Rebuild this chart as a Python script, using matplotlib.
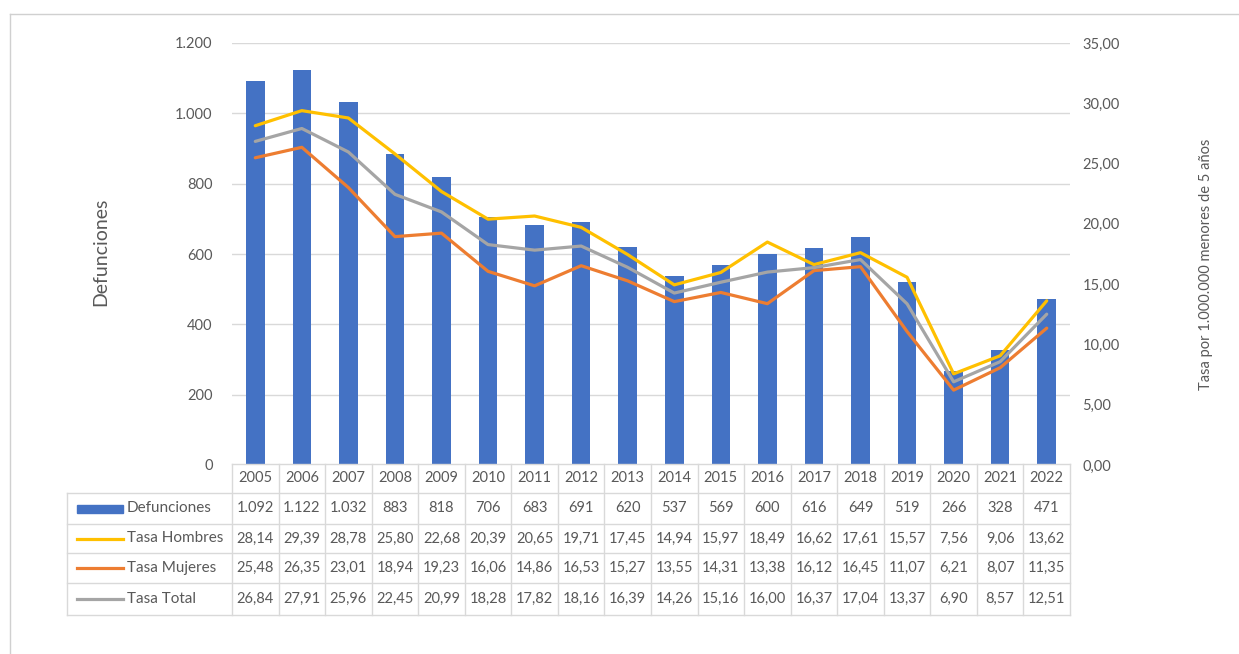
import matplotlib
matplotlib.use("Agg")
import matplotlib.pyplot as plt
import matplotlib.transforms as mtransforms
from matplotlib.lines import Line2D
from matplotlib.patches import Rectangle

plt.rcParams['font.family'] = ['Lato', 'DejaVu Sans']

YEARS = ["2005", "2006", "2007", "2008", "2009", "2010", "2011", "2012", "2013",
         "2014", "2015", "2016", "2017", "2018", "2019", "2020", "2021", "2022"]
DEFUNCIONES = [1092, 1122, 1032, 883, 818, 706, 683, 691, 620, 537, 569, 600, 616, 649, 519, 266, 328, 471]
TASA_HOMBRES = [28.14, 29.39, 28.78, 25.80, 22.68, 20.39, 20.65, 19.71, 17.45, 14.94, 15.97, 18.49,
                16.62, 17.61, 15.57, 7.56, 9.06, 13.62]
TASA_MUJERES = [25.48, 26.35, 23.01, 18.94, 19.23, 16.06, 14.86, 16.53, 15.27, 13.55, 14.31, 13.38,
                16.12, 16.45, 11.07, 6.21, 8.07, 11.35]
TASA_TOTAL = [26.84, 27.91, 25.96, 22.45, 20.99, 18.28, 17.82, 18.16, 16.39, 14.26, 15.16, 16.00,
              16.37, 17.04, 13.37, 6.90, 8.57, 12.51]
LEFT_TICKS = [0, 200, 400, 600, 800, 1000, 1200]
RIGHT_TICKS = [0, 5, 10, 15, 20, 25, 30, 35]

BLUE = '#4472C4'
YELLOW = '#FFC000'
ORANGE = '#ED7D31'
GREY = '#A5A5A5'
TXT = '#595959'
GRID = '#D9D9D9'

W, H = 1239, 654


def fx(px):
    return px / W


def fy(py):
    return 1 - py / H


def fmt_int(v):
    return "{:,}".format(v).replace(",", ".")


def fmt_rate(v):
    return "{:.2f}".format(v).replace(".", ",")


def main():
    fig = plt.figure(figsize=(W / 100, H / 100), dpi=100)
    ax = fig.add_axes([fx(232), fy(465), fx(1070) - fx(232), fy(43) - fy(465)])
    ax2 = ax.twinx()

    xs = list(range(len(YEARS)))
    ax.bar(xs, DEFUNCIONES, width=0.4, color=BLUE, zorder=2)
    ax.set_xlim(-0.5, len(YEARS) - 0.5)
    ax.set_ylim(0, 1200)
    ax.set_yticks(LEFT_TICKS)
    ax.set_yticklabels([fmt_int(v) for v in LEFT_TICKS])
    ax.set_xticks([])
    ax.yaxis.grid(True, color=GRID, linewidth=1, zorder=0)
    ax.set_axisbelow(True)
    ax.tick_params(axis='y', length=0, pad=14, labelsize=10.5, labelcolor=TXT)
    for s in ax.spines.values():
        s.set_visible(False)

    ax2.plot(xs, TASA_HOMBRES, color=YELLOW, linewidth=2.3, solid_capstyle='round')
    ax2.plot(xs, TASA_MUJERES, color=ORANGE, linewidth=2.3, solid_capstyle='round')
    ax2.plot(xs, TASA_TOTAL, color=GREY, linewidth=2.3, solid_capstyle='round')
    ax2.set_ylim(0, 35)
    ax2.set_yticks(RIGHT_TICKS)
    ax2.set_yticklabels([fmt_rate(v) for v in RIGHT_TICKS])
    ax2.tick_params(axis='y', length=0, pad=9, labelsize=10.5, labelcolor=TXT)
    for s in ax2.spines.values():
        s.set_visible(False)

    fig.text(fx(101), fy(252), "Defunciones", rotation=90, ha='center', va='center',
             fontsize=14, color=TXT)
    fig.text(fx(1206), fy(264), "Tasa por 1.000.000 menores de 5 años", rotation=90,
             ha='center', va='center', fontsize=10.5, color=TXT)

    # data table below the chart
    tr = mtransforms.blended_transform_factory(ax.transData, fig.transFigure)
    rows_y = [464, 493, 524, 553, 583, 615]
    n = len(YEARS)
    fig.add_artist(Line2D([-0.5, n - 0.5], [fy(464), fy(464)], transform=tr, color=GRID, lw=1))
    for yy in rows_y[1:]:
        fig.add_artist(Line2D([fx(67), fx(1070)], [fy(yy), fy(yy)], color=GRID, lw=1))
    fig.add_artist(Line2D([fx(67), fx(67)], [fy(493), fy(615)], color=GRID, lw=1))
    for k in range(n + 1):
        fig.add_artist(Line2D([k - 0.5, k - 0.5], [fy(464), fy(615)], transform=tr, color=GRID, lw=1))

    series_rows = [
        ("Defunciones", [fmt_int(v) for v in DEFUNCIONES]),
        ("Tasa Hombres", [fmt_rate(v) for v in TASA_HOMBRES]),
        ("Tasa Mujeres", [fmt_rate(v) for v in TASA_MUJERES]),
        ("Tasa Total", [fmt_rate(v) for v in TASA_TOTAL]),
    ]
    for i, yr in enumerate(YEARS):
        fig.text(i, fy(478.5), yr, transform=tr, ha='center', va='center', fontsize=10.5, color=TXT)
    keys = [BLUE, YELLOW, ORANGE, GREY]
    for r, (name, vals) in enumerate(series_rows):
        yc = (rows_y[r + 1] + rows_y[r + 2]) / 2
        for i, v in enumerate(vals):
            fig.text(i, fy(yc), v, transform=tr, ha='center', va='center', fontsize=10.5, color=TXT)
        if r == 0:
            fig.add_artist(Rectangle((fx(77), fy(yc + 4)), fx(123) - fx(77), fy(yc - 4) - fy(yc + 4),
                                     color=keys[r]))
        else:
            fig.add_artist(Line2D([fx(77), fx(123)], [fy(yc), fy(yc)], color=keys[r], lw=2.3))
        fig.text(fx(127), fy(yc), name, ha='left', va='center', fontsize=11, color=TXT)

    # outer frame
    fig.add_artist(Line2D([fx(10), 1], [fy(14), fy(14)], color='#D0D0D0', lw=1))
    fig.add_artist(Line2D([fx(10), fx(10)], [fy(14), 0], color='#D0D0D0', lw=1))

    fig.savefig("out.png", dpi=100)


if __name__ == "__main__":
    main()
